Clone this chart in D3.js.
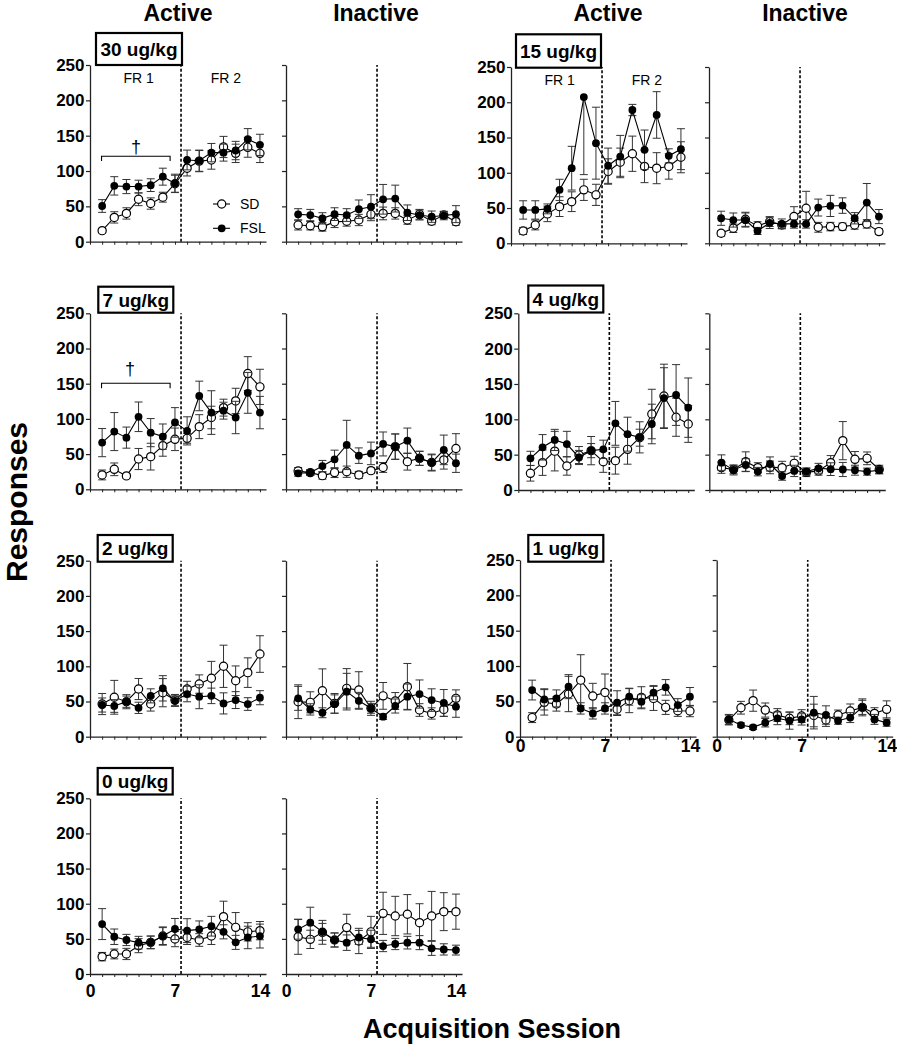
<!DOCTYPE html>
<html><head><meta charset="utf-8">
<script src="https://cdn.jsdelivr.net/npm/d3@7/dist/d3.min.js"></script>
<style>
body{margin:0;background:#fff}
svg{display:block}
text{font-family:"Liberation Sans",Arial,Helvetica,sans-serif}
</style>
</head><body>
<svg id="chart" width="897" height="1050"></svg>
<script>
// ---------- data ----------
const sessions = [1,2,3,4,5,6,7,8,9,10,11,12,13,14];
const xTickValues = [0,1,2,3,4,5,6,7,8,9,10,11,12,13,14];
const xTickLabels = [0,7,14];
const yTicks = [0,50,100,150,200,250];
const groups = ["SD","FSL"];
const levers = ["Active","Inactive"];
const doseLabels = ["30 ug/kg","15 ug/kg","7 ug/kg","4 ug/kg","2 ug/kg","1 ug/kg","0 ug/kg"];
const phaseLabels = ["FR 1","FR 2"];

// 30 ug/kg
const sdActive30      = [15.6,34.4,40,60,54,63,82,104,114,115.6,134,125,133.5,125];
const sdActive30Sem   = [3,8,8,9,8,7,12,11,15,13,15,13,14,13];
const fslActive30     = [50.5,79,78,78,80,92,82.5,115.6,114.6,126,126,129,145,137];
const fslActive30Sem  = [9,13,10,9,9,12,13,14,15,13,12,13,15,15];
const sdInactive30    = [23.6,22.6,21,28,29,30.7,38.7,40,40,30.7,38.7,29,37.7,28.3];
const sdInactive30Sem = [7,6,6,8,7,8,9,9,8,6,7,5,5,5];
const fslInactive30   = [38.7,37.7,33,39,37.7,46,49.5,60,61,41,37.7,35.4,37,39];
const fslInactive30Sem= [8,8,8,9,9,13,17,21,19,11,7,8,6,12];

// 15 ug/kg
const sdActive15      = [17.5,26,41.7,52,59,75.8,68.7,101.8,115,127,109,106.5,109,122];
const sdActive15Sem   = [5,7,11,14,14,15,15,18,20,25,23,22,18,22];
const fslActive15     = [47.3,47.3,48.8,75.8,106.5,207.4,142,110,123,189,132.6,182,124,133.5];
const fslActive15Sem  = [13,13,7,15,31,110,51,25,30,8,28,33,10,29];
const sdInactive15    = [14.2,21.3,34,24.6,30.8,26,37.9,49.7,22.7,23.7,23.7,26,27.5,16.6];
const sdInactive15Sem = [4,6,10,6,7,5,14,24,7,6,5,6,6,4];
const fslInactive15   = [35.5,33,33,17.5,29,27.5,27.5,27.5,50.7,53,53.5,35.5,57.8,37.9];
const fslInactive15Sem= [10,10,10,5,8,7,6,6,12,15,11,8,27,10];

// 7 ug/kg
const sdActive7       = [20.4,28.4,19,43,46.4,62,71,72.4,89,102,116,125.5,164.4,145.5];
const sdActive7Sem    = [7,9,3,15,19,15,16,7,17,16,12,18,24,25];
const fslActive7      = [66.3,82,73.4,103,80.5,74.8,95,83,132.6,109,111.7,102,137,109];
const fslActive7Sem   = [20,27,15,21,20,18,21,20,21,31,12,23,29,23];
const sdInactive7     = [26,23.7,19.4,23.7,25,20.4,26.5,31,60.6,39.3,44,38,41.7,58];
const sdInactive7Sem  = [5,4,5,7,8,5,4,7,18,12,10,11,13,21];
const fslInactive7    = [22.7,23.7,33,42.6,63,47.8,51,64.4,60.6,69,44,38,56,37];
const fslInactive7Sem = [4,4,8,13,35,11,16,17,18,18,10,12,21,13];

// 4 ug/kg
const sdActive4       = [23.6,38.7,55,34,49.5,55.7,40,41.5,57.5,74,107.5,133,103,93.4];
const sdActive4Sem    = [11,18,28,13,12,20,15,19,21,12,35,45,27,26];
const fslActive4      = [44.8,60.4,70.8,65,46,55.7,57.5,94.3,79,74.5,93.4,130,134.4,116.5];
const fslActive4Sem   = [10,18,15,18,10,10,13,31,24,22,28,43,43,42];
const sdInactive4     = [31.6,29,40,31.6,32,31.6,37.7,25,27,38.7,69.8,43.4,44.8,29];
const sdInactive4Sem  = [8,6,14,7,9,9,10,6,6,10,27,11,9,6];
const fslInactive4    = [38.7,28.3,35.4,26,36.8,19.8,27,26,30.7,29.5,29,28,26,28];
const fslInactive4Sem = [11,7,9,6,10,6,8,5,7,9,10,7,5,5];

// 2 ug/kg
const sdActive2       = [46.4,56,49.7,67.7,46.4,62.5,52,67.7,74.8,83,100,79.5,91,117.4];
const sdActive2Sem    = [15,24,10,15,10,20,8,11,13,24,30,21,21,26];
const fslActive2      = [45,43.6,49.7,41,58,68.7,51,60.6,56.8,58,47.3,52,46.4,55.4];
const fslActive2Sem   = [10,9,8,8,10,18,8,11,17,11,15,12,9,10];
const sdInactive2     = [49.7,48.8,65.3,47.3,68.7,66.3,40.3,58,50.7,71,37.9,33,38.8,54.5];
const sdInactive2Sem  = [24,15,31,14,28,26,10,19,12,33,9,8,10,12];
const fslInactive2    = [54.5,38.8,34,46.4,64,51,40.3,28.4,43.6,56.8,60.6,52,48,42.6];
const fslInactive2Sem = [17,8,7,13,26,12,7,4,10,18,20,16,19,15];

// 1 ug/kg
const sdActive1       = [27,48.6,46.2,60.4,80,57.5,62.7,39,51,55.7,54.2,41.5,36.8,36.3];
const sdActive1Sem    = [7,18,10,25,36,18,26,9,17,15,17,10,8,8];
const fslActive1      = [66,52.8,54.2,70.8,40,33,40,48,56.6,49.5,62.3,69.8,44.8,56.6];
const fslActive1Sem   = [14,15,12,17,8,8,8,17,12,10,10,11,9,13];
const sdInactive1     = [23.6,41,51,37.7,30.7,26,29.2,30,23.6,30.7,36.3,41.5,33,38.7];
const sdInactive1Sem  = [7,9,15,10,9,9,9,16,9,7,10,10,8,12];
const fslInactive1    = [24.5,16.5,13.2,19.8,26,22.6,24.5,34,30.7,22.6,27,41.5,24.5,19.8];
const fslInactive1Sem = [7,3,3,6,9,12,8,23,13,5,7,12,7,5];

// 0 ug/kg
const sdActive0       = [24.7,28.5,28.5,40.3,45,54,49.8,52,48.4,54,81.6,66.4,60,61.7];
const sdActive0Sem    = [6,7,8,10,9,13,11,10,9,12,22,21,13,13];
const fslActive0      = [71,53,48.4,44.6,45,54,64,61.7,63.5,68,60,45,52,54];
const fslActive0Sem   = [22,11,8,9,9,12,15,17,12,14,10,10,16,17];
const sdInactive0     = [53,49.3,59.3,48.4,66,47,60,86.3,82.5,85,73,82.5,88.7,88.7];
const sdInactive0Sem  = [25,13,17,10,19,18,22,30,28,28,27,35,27,25];
const fslInactive0    = [63.5,73,60,48.4,44.6,52,49.3,39.8,42.7,44.6,44.6,36.5,35,34];
const fslInactive0Sem = [14,22,12,10,11,10,13,8,8,9,10,10,8,7];

// significance brackets (data units): [xStart, xEnd, yLine, daggerX, daggerBaseline]
const bracket30 = [0.95, 6.6, 121, 3.8, 125.3];
const bracket7  = [0.95, 6.6, 150.6, 3.3, 162];

// ---------- table built from the arrays ----------
const table = {
  "30":{Active:{SD:[sdActive30,sdActive30Sem],FSL:[fslActive30,fslActive30Sem]},Inactive:{SD:[sdInactive30,sdInactive30Sem],FSL:[fslInactive30,fslInactive30Sem]}},
  "15":{Active:{SD:[sdActive15,sdActive15Sem],FSL:[fslActive15,fslActive15Sem]},Inactive:{SD:[sdInactive15,sdInactive15Sem],FSL:[fslInactive15,fslInactive15Sem]}},
  "7":{Active:{SD:[sdActive7,sdActive7Sem],FSL:[fslActive7,fslActive7Sem]},Inactive:{SD:[sdInactive7,sdInactive7Sem],FSL:[fslInactive7,fslInactive7Sem]}},
  "4":{Active:{SD:[sdActive4,sdActive4Sem],FSL:[fslActive4,fslActive4Sem]},Inactive:{SD:[sdInactive4,sdInactive4Sem],FSL:[fslInactive4,fslInactive4Sem]}},
  "2":{Active:{SD:[sdActive2,sdActive2Sem],FSL:[fslActive2,fslActive2Sem]},Inactive:{SD:[sdInactive2,sdInactive2Sem],FSL:[fslInactive2,fslInactive2Sem]}},
  "1":{Active:{SD:[sdActive1,sdActive1Sem],FSL:[fslActive1,fslActive1Sem]},Inactive:{SD:[sdInactive1,sdInactive1Sem],FSL:[fslInactive1,fslInactive1Sem]}},
  "0":{Active:{SD:[sdActive0,sdActive0Sem],FSL:[fslActive0,fslActive0Sem]},Inactive:{SD:[sdInactive0,sdInactive0Sem],FSL:[fslInactive0,fslInactive0Sem]}}
};

// ---------- layout ----------
const PW = 176;  // pixel width of x range [0,14.5]
const panels = [
  {dose:"30", label:0, x0:90,    yTop:65,    y0:241.7, box:[96,33,86,32],   fr:true, legend:true, bracket:bracket30},
  {dose:"30", lever:"Inactive", x0:286, yTop:65, y0:241.7},
  {dose:"15", label:1, x0:511,   yTop:67,    y0:243.3, box:[516,34.3,85,33.4], fr:true},
  {dose:"15", lever:"Inactive", x0:709, yTop:67, y0:243.3},
  {dose:"7",  label:2, x0:90,    yTop:313.3, y0:489.3, box:[98.3,286.7,75,26], bracket:bracket7},
  {dose:"7",  lever:"Inactive", x0:286, yTop:313.3, y0:489.3},
  {dose:"4",  label:3, x0:518.3, yTop:313.3, y0:490,   box:[528.3,285.5,75,27]},
  {dose:"4",  lever:"Inactive", x0:709.3, yTop:313.3, y0:490},
  {dose:"2",  label:4, x0:90,    yTop:560.7, y0:736.7, box:[97.7,535,75,26.7]},
  {dose:"2",  lever:"Inactive", x0:286, yTop:560.7, y0:736.7},
  {dose:"1",  label:5, x0:520,   yTop:560,   y0:736.7, box:[528.3,535,75,26.7], xLab:true, xPad:0},
  {dose:"1",  lever:"Inactive", x0:716.7, yTop:560, y0:736.7, xLab:true, xPad:0},
  {dose:"0",  label:6, x0:90,    yTop:798.3, y0:974,   box:[97.7,768,75,26.5], xLab:true, xPad:8},
  {dose:"0",  lever:"Inactive", x0:286, yTop:798.3, y0:974, xLab:true, xPad:8}
];
panels.forEach(p => { if (!p.lever) p.lever = "Active"; });

const svg = d3.select("#chart");
const FONT = '"Liberation Sans",Arial,Helvetica,sans-serif';

// column headers
[[178,21,"Active"],[376,21,"Inactive"],[608,21,"Active"],[805,21,"Inactive"]].forEach(h=>{
  svg.append("text").attr("x",h[0]).attr("y",h[1]).attr("text-anchor","middle")
    .attr("font-size",23).attr("font-weight","bold").text(h[2]);
});

// axis titles
svg.append("text").attr("transform","translate(27,502) rotate(-90)").attr("text-anchor","middle")
  .attr("font-size",30).attr("font-weight","bold").text("Responses");
svg.append("text").attr("x",492).attr("y",1038).attr("text-anchor","middle")
  .attr("font-size",27).attr("font-weight","bold").text("Acquisition Session");

function drawMarker(sel, group, cx, cy){
  if (group === "SD"){
    sel.append("circle").attr("cx",cx).attr("cy",cy).attr("r",4.1)
      .attr("fill","#fff").attr("stroke","#000").attr("stroke-width",1.2);
  } else {
    sel.append("circle").attr("cx",cx).attr("cy",cy).attr("r",3.9).attr("fill","#000");
  }
}

panels.forEach(p => {
  const g = svg.append("g");
  const x = d3.scaleLinear().domain([0,14.5]).range([p.x0, p.x0+PW]);
  const y = d3.scaleLinear().domain([0,250]).range([p.y0, p.yTop]);
  const isActive = p.lever === "Active";

  // y axis
  const ya = g.append("g").attr("transform",`translate(${p.x0},0)`)
    .call(d3.axisLeft(y).tickValues(yTicks).tickSize(4).tickSizeOuter(0).tickPadding(1.5)
      .tickFormat(isActive ? d3.format("d") : () => ""));
  ya.select(".domain").attr("stroke","#222").attr("stroke-width",1.3);
  ya.selectAll(".tick line").attr("stroke","#222").attr("stroke-width",1.2);
  ya.selectAll(".tick text").attr("font-size",17).attr("font-weight","bold")
    .attr("font-family",FONT).attr("fill","#000");

  // x axis
  const xa = g.append("g").attr("transform",`translate(0,${p.y0})`)
    .call(d3.axisBottom(x).tickValues(xTickValues).tickSize(3).tickSizeOuter(0).tickPadding(p.xPad||0)
      .tickFormat(d => (p.xLab && xTickLabels.includes(d)) ? d : ""));
  xa.select(".domain").attr("stroke","#222").attr("stroke-width",1.3);
  xa.selectAll(".tick line").attr("stroke","#222").attr("stroke-width",1);
  xa.selectAll(".tick text").attr("font-size",17.5).attr("font-weight","bold")
    .attr("font-family",FONT).attr("fill","#000");

  // FR phase separator
  g.append("line").attr("x1",x(7.5)).attr("x2",x(7.5)).attr("y1",y(0)).attr("y2",y(250))
    .attr("stroke","#000").attr("stroke-width",1.6).attr("stroke-dasharray","3,2");

  // series
  groups.forEach(grp => {
    const [mean, sem] = table[p.dose][p.lever][grp];
    const pts = sessions.map((s,i)=>({s, m:mean[i], e:sem[i]}));
    const eb = g.append("g").attr("stroke","#333").attr("stroke-width",1);
    pts.forEach(d=>{
      const lo = Math.max(0, d.m - d.e), hi = d.m + d.e;
      const showHi = hi <= 250;
      eb.append("line").attr("x1",x(d.s)).attr("x2",x(d.s))
        .attr("y1",y(lo)).attr("y2",y(showHi ? hi : d.m));
      eb.append("line").attr("x1",x(d.s)-4).attr("x2",x(d.s)+4).attr("y1",y(lo)).attr("y2",y(lo));
      if (showHi) eb.append("line").attr("x1",x(d.s)-4).attr("x2",x(d.s)+4).attr("y1",y(hi)).attr("y2",y(hi));
    });
    g.append("path").datum(pts)
      .attr("d", d3.line().x(d=>x(d.s)).y(d=>y(d.m)))
      .attr("fill","none").attr("stroke","#000").attr("stroke-width",1.1);
    const mk = g.append("g");
    pts.forEach(d => drawMarker(mk, grp, x(d.s), y(d.m)));
  });

  // dose box
  if (p.box){
    const [bx,by,bw,bh] = p.box;
    g.append("rect").attr("x",bx).attr("y",by).attr("width",bw).attr("height",bh)
      .attr("fill","#fff").attr("stroke","#000").attr("stroke-width",2.2);
    g.append("text").attr("x",bx+bw/2).attr("y",by+bh/2+7).attr("text-anchor","middle")
      .attr("font-size",19).attr("font-weight","bold").text(doseLabels[p.label]);
  }

  // FR labels
  if (p.fr){
    g.append("text").attr("x",x(4)).attr("y",y(224)).attr("text-anchor","middle")
      .attr("font-size",14).text(phaseLabels[0]);
    g.append("text").attr("x",x(11.2)).attr("y",y(224)).attr("text-anchor","middle")
      .attr("font-size",14).text(phaseLabels[1]);
  }

  // significance bracket
  if (p.bracket){
    const [bx1,bx2,byl,dx,dy] = p.bracket;
    g.append("path")
      .attr("d",`M${x(bx1)},${y(byl-7)}V${y(byl)}H${x(bx2)}V${y(byl-7)}`)
      .attr("fill","none").attr("stroke","#000").attr("stroke-width",1.1);
    g.append("text").attr("x",x(dx)).attr("y",y(dy)).attr("text-anchor","middle")
      .attr("font-size",18).text("\u2020");
  }

  // legend
  if (p.legend){
    groups.forEach((grp,i)=>{
      const ly = 204 + i*24.3;
      g.append("line").attr("x1",213).attr("x2",230).attr("y1",ly).attr("y2",ly)
        .attr("stroke","#000").attr("stroke-width",1.1);
      drawMarker(g, grp, 221.7, ly);
      g.append("text").attr("x",240).attr("y",ly+5).attr("font-size",14).text(grp);
    });
  }
});
</script>
</body></html>
